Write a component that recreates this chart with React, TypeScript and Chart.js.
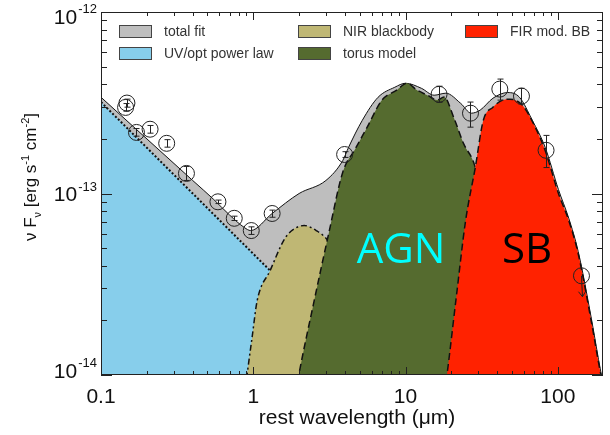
import React, { useEffect, useRef } from 'react';
import { Chart, registerables } from 'chart.js';
Chart.register(...registerables);

// ---- data (wavelength in micron, nuFnu in erg s^-1 cm^-2) ----
const powerX = [0.1, 1.29, 1.7];
const powerY = [3.19e-13, 3.76e-14, 8e-15];

const tanX = [0.88, 0.91, 0.985, 1.06, 1.29, 1.61, 1.87, 2.16, 2.59, 3.09, 3.8, 5.0, 6.5];
const tanY = [8e-15, 1e-14, 1.64e-14, 2.56e-14, 3.76e-14, 5.64e-14, 6.41e-14, 6.66e-14, 6.25e-14, 5.5e-14, 4.0e-14, 2.0e-14, 8e-15];

const torusX = [1.9, 1.99, 2.51, 3.14, 3.87, 4.69, 5.6, 7.0, 8.75, 10.2, 11.9, 13.9, 16.1, 17.9, 20.7, 24.0, 28.7, 37.5, 43.5, 46];
const torusY = [8e-15, 1e-14, 2.56e-14, 6.1e-14, 1.31e-13, 1.77e-13, 2.32e-13, 3.27e-13, 3.71e-13, 4.05e-13, 3.71e-13, 3.48e-13, 3.27e-13, 3.4e-13, 2.63e-13, 1.89e-13, 1.39e-13, 4.26e-14, 1e-14, 8e-15];

const firX = [18, 18.7, 21.5, 24.8, 28.7, 32.4, 37.5, 43.5, 48.3, 58.6, 71, 82.5, 101, 118, 136, 165.6, 192, 205];
const firY = [8e-15, 1e-14, 2.66e-14, 7.1e-14, 1.39e-13, 2.53e-13, 2.99e-13, 3.27e-13, 3.31e-13, 3.06e-13, 2.32e-13, 1.73e-13, 1.0e-13, 7.1e-14, 4.67e-14, 1.99e-14, 1e-14, 8e-15];

const totalX = [0.1, 0.4, 0.55, 0.7, 0.875, 0.96, 1.33, 2.0, 3.0, 3.87, 4.23, 5.2, 6.6, 8.5, 10, 12.7, 15.4, 18.4, 23, 27, 30.9, 37.5, 46.9, 56, 68, 82.5, 101, 118, 136, 166, 192, 205];
const totalY = [3.39e-13, 1.18e-13, 9.27e-14, 7.6e-14, 6.49e-14, 6.25e-14, 7.76e-14, 1.0e-13, 1.18e-13, 1.52e-13, 1.8e-13, 2.53e-13, 3.39e-13, 3.85e-13, 4.05e-13, 3.8e-13, 3.48e-13, 3.57e-13, 3.14e-13, 2.77e-13, 2.88e-13, 3.35e-13, 3.6e-13, 3.39e-13, 2.53e-13, 1.8e-13, 1.05e-13, 7.3e-14, 4.8e-14, 2.05e-14, 1.03e-14, 8e-15];

const obsX = [0.148, 0.145, 0.171, 0.21, 0.27, 0.364, 0.586, 0.75, 0.97, 1.33, 3.98, 16.6, 26.7, 41.6, 57.7, 83.7];
const obsY = [3.15e-13, 2.98e-13, 2.17e-13, 2.26e-13, 1.89e-13, 1.29e-13, 9.0e-14, 7.3e-14, 6.25e-14, 7.76e-14, 1.64e-13, 3.52e-13, 2.77e-13, 3.76e-13, 3.44e-13, 1.73e-13];
const obsHi = [3.31e-13, 3.13e-13, 2.28e-13, 2.37e-13, 1.98e-13, 1.41e-13, 9.2e-14, 7.5e-14, 6.55e-14, 8.1e-14, 1.7e-13, 3.9e-13, 3.19e-13, 4.27e-13, 3.8e-13, 2.09e-13];
const obsLo = [2.99e-13, 2.84e-13, 2.07e-13, 2.15e-13, 1.8e-13, 1.18e-13, 8.8e-14, 7.1e-14, 5.95e-14, 7.4e-14, 1.58e-13, 3.18e-13, 2.32e-13, 3.27e-13, 3.11e-13, 1.39e-13];

const limitX = [143];
const limitY = [3.52e-14];
const limitEnd = [2.7e-14];

const xTickLabels = [0.1, 1, 10, 100];
const yTickExps = [-14, -13, -12];

const legendLabels = ['total fit', 'UV/opt power law', 'NIR blackbody', 'torus model', 'FIR mod. BB'];
const legendColors = ['#BEBEBE', '#87CEEB', '#BFB774', '#556B2F', '#FF2200'];

const xMin = 0.1, xMax = 198, yMin = 1e-14, yMax = 1e-12;

const pts = (xs: number[], ys: number[]) => xs.map((x, i) => ({ x, y: ys[i] }));

const decorPlugin = {
  id: 'decor',
  afterDatasetsDraw(chart: any) {
    const { ctx, chartArea: a, scales } = chart;
    const xs = scales.x, ys = scales.y;
    const ln = (x1: number, y1: number, x2: number, y2: number) => {
      ctx.beginPath(); ctx.moveTo(x1, y1); ctx.lineTo(x2, y2); ctx.stroke();
    };
    ctx.save();
    // error bars
    ctx.strokeStyle = '#222';
    ctx.lineWidth = 1;
    obsX.forEach((v, i) => {
      const cx = Math.round(xs.getPixelForValue(v)) + 0.5;
      const yh = ys.getPixelForValue(obsHi[i]);
      const yl = ys.getPixelForValue(obsLo[i]);
      ln(cx, yh, cx, yl);
      ln(cx - 3, yh, cx + 3, yh);
      ln(cx - 3, yl, cx + 3, yl);
    });
    // upper limit arrows
    limitX.forEach((v, i) => {
      const cx = xs.getPixelForValue(v);
      const cy = ys.getPixelForValue(limitY[i]);
      const ey = ys.getPixelForValue(limitEnd[i]);
      ln(cx, cy, cx + 1, ey);
      ln(cx + 1, ey, cx - 3, ey - 5);
      ln(cx + 1, ey, cx + 4, ey - 5);
    });

    // region labels
    ctx.textAlign = 'center';
    ctx.textBaseline = 'alphabetic';
    ctx.font = '42px "Open Sans", "Noto Sans", sans-serif';
    ctx.fillStyle = '#00FFFF';
    ctx.fillText('AGN', 401, 263);
    ctx.fillStyle = '#000';
    ctx.fillText('SB', 527, 263);

    // frame
    ctx.strokeStyle = '#222';
    ctx.lineWidth = 1;
    ctx.strokeRect(a.left + 0.5, a.top + 0.5, a.right - a.left - 1, a.bottom - a.top - 1);

    // x ticks (inward, top and bottom)
    for (let e = -1; e <= 2; e++) {
      for (let m = 1; m <= 9; m++) {
        const v = m * Math.pow(10, e);
        if (v < xMin || v > xMax) continue;
        const px = Math.round(xs.getPixelForValue(v)) + 0.5;
        const len = m === 1 ? 8 : 4;
        ln(px, a.bottom, px, a.bottom - len);
        ln(px, a.top, px, a.top + len);
      }
    }
    // y ticks (inward, left and right)
    for (let e = -14; e <= -12; e++) {
      for (let m = 1; m <= 9; m++) {
        const v = m * Math.pow(10, e);
        if (v < yMin * 0.999 || v > yMax * 1.001) continue;
        const py = Math.round(ys.getPixelForValue(v)) + 0.5;
        const len = m === 1 ? 11 : 6;
        ln(a.left, py, a.left + len, py);
        ln(a.right, py, a.right - len, py);
      }
    }

    // x tick labels
    ctx.fillStyle = '#111';
    ctx.font = '21px "Liberation Sans", Arial, sans-serif';
    ctx.textAlign = 'center';
    ctx.textBaseline = 'alphabetic';
    xTickLabels.forEach((v) => {
      ctx.fillText(String(v), xs.getPixelForValue(v), 403);
    });
    // x title
    ctx.fillText('rest wavelength (\u03bcm)', 357, 424);

    // y tick labels with superscript
    yTickExps.forEach((e) => {
      const py = Math.min(Math.max(ys.getPixelForValue(Math.pow(10, e)), 16), 370);
      ctx.font = '13px "Liberation Sans", Arial, sans-serif';
      const sup = '-' + String(-e);
      const supW = ctx.measureText(sup).width;
      ctx.textAlign = 'left';
      ctx.textBaseline = 'alphabetic';
      const supX = 97 - supW;
      ctx.fillText(sup, supX, py - 3);
      ctx.font = '21px "Liberation Sans", Arial, sans-serif';
      ctx.textAlign = 'right';
      ctx.fillText('10', supX - 1, py + 7.5);
    });

    // y title, rotated, rich text
    ctx.save();
    ctx.translate(30, 177);
    ctx.rotate(-Math.PI / 2);
    const parts = [
      { t: '\u03bd F', s: 17, dy: 0 },
      { t: '\u03bd', s: 11, dy: 5 },
      { t: ' [erg s', s: 17, dy: 0 },
      { t: '-1', s: 11, dy: -7 },
      { t: ' cm', s: 17, dy: 0 },
      { t: '-2', s: 11, dy: -7 },
      { t: ']', s: 17, dy: 0 },
    ];
    let total = 0;
    parts.forEach((p) => {
      ctx.font = `${p.s}px "Liberation Sans", Arial, sans-serif`;
      total += ctx.measureText(p.t).width;
    });
    let cx = -total / 2;
    ctx.textAlign = 'left';
    ctx.textBaseline = 'alphabetic';
    parts.forEach((p) => {
      ctx.font = `${p.s}px "Liberation Sans", Arial, sans-serif`;
      ctx.fillText(p.t, cx, 6 + p.dy);
      cx += ctx.measureText(p.t).width;
    });
    ctx.restore();

    // legend
    const cols = [119, 119, 298, 298, 465];
    const rows = [25, 47, 25, 47, 25];
    ctx.font = '14px "Liberation Sans", Arial, sans-serif';
    ctx.textAlign = 'left';
    ctx.textBaseline = 'alphabetic';
    legendLabels.forEach((lab, i) => {
      ctx.fillStyle = legendColors[i];
      ctx.fillRect(cols[i], rows[i], 33, 13);
      ctx.strokeStyle = '#444';
      ctx.strokeRect(cols[i] + 0.5, rows[i] + 0.5, 32, 12);
      ctx.fillStyle = '#333';
      ctx.fillText(lab, cols[i] + 45, rows[i] + 11);
    });
    ctx.restore();
  },
};

export default function App() {
  const ref = useRef<HTMLCanvasElement | null>(null);
  useEffect(() => {
    if (!ref.current) return;
    const line = (label: string, xs: number[], ys: number[], color: string, dash: number[], width: number, smooth: boolean) => ({
      label,
      data: pts(xs, ys),
      borderColor: '#111',
      backgroundColor: color,
      borderWidth: width,
      borderDash: dash,
      pointRadius: 0,
      fill: 'start',
      tension: 0,
      cubicInterpolationMode: smooth ? 'monotone' : 'default',
    });
    const chart = new Chart(ref.current, {
      type: 'line',
      data: {
        datasets: [
          {
            label: 'limit',
            data: pts(limitX, limitY),
            showLine: false,
            pointRadius: 8,
            pointBorderColor: '#222',
            pointBackgroundColor: 'rgba(0,0,0,0)',
            pointBorderWidth: 1,
          } as any,
          {
            label: 'data',
            data: pts(obsX, obsY),
            showLine: false,
            pointRadius: 8,
            pointBorderColor: '#222',
            pointBackgroundColor: 'rgba(0,0,0,0)',
            pointBorderWidth: 1,
          } as any,
          line('FIR mod. BB', firX, firY, legendColors[4], [7, 4], 1.5, true),
          line('torus model', torusX, torusY, legendColors[3], [7, 4], 1.5, true),
          line('NIR blackbody', tanX, tanY, legendColors[2], [6, 3, 2, 3], 1.5, true),
          line('UV/opt power law', powerX, powerY, legendColors[1], [2, 2], 2, false),
          line('total fit', totalX, totalY, legendColors[0], [], 1, true),
        ] as any,
      },
      options: {
        responsive: false,
        animation: false,
        layout: { padding: { left: 101, top: 12, right: 0, bottom: 60 } },
        plugins: { legend: { display: false }, tooltip: { enabled: false } },
        scales: {
          x: { type: 'logarithmic', min: xMin, max: xMax, display: false },
          y: { type: 'logarithmic', min: yMin, max: yMax, display: false },
        },
      } as any,
      plugins: [decorPlugin],
    });
    return () => chart.destroy();
  }, []);
  return (
    <div style={{ position: 'fixed', left: 0, top: 0, width: 610, height: 435, overflow: 'hidden', background: '#fff' }}>
      <canvas ref={ref} width={612} height={435} style={{ display: 'block' }} />
    </div>
  );
}
